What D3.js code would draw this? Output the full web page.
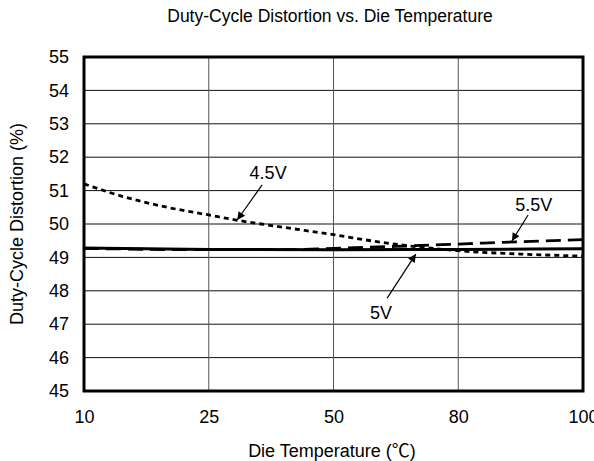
<!DOCTYPE html>
<html>
<head>
<meta charset="utf-8">
<script src="https://cdn.jsdelivr.net/npm/d3@7"></script>
<style>
body { margin: 0; background: #fff; }
text { font-family: "Liberation Sans", Arial, sans-serif; fill: #000; }
</style>
</head>
<body>
<div id="chart"></div>
<script>
// chart data
var xTicks = [10, 25, 50, 80, 100];
var yTicks = [45, 46, 47, 48, 49, 50, 51, 52, 53, 54, 55];

var temps45 = [10, 15, 20, 25, 30, 40, 50, 60, 70, 80, 90, 100];
var vals45  = [51.2, 50.8, 50.5, 50.27, 50.13, 49.9, 49.68, 49.48, 49.32, 49.2, 49.1, 49.04];

var temps50 = [10, 25, 50, 80, 100];
var vals50  = [49.28, 49.24, 49.23, 49.24, 49.26];

var temps55 = [10, 25, 40, 50, 65, 80, 90, 100];
var vals55  = [49.27, 49.23, 49.23, 49.27, 49.33, 49.4, 49.47, 49.53];

var labels = ["4.5V", "5V", "5.5V"];

var svg = d3.select("#chart").append("svg")
    .attr("width", 594).attr("height", 461);

var margin = {top: 57, left: 84},
    width = 499,
    height = 334;

var g = svg.append("g")
    .attr("transform", "translate(" + margin.left + "," + margin.top + ")");

// x axis is not linear: ticks evenly spaced
var x = d3.scaleLinear()
    .domain(xTicks)
    .range(xTicks.map(function(d, i){ return i * width / (xTicks.length - 1); }));

var y = d3.scaleLinear().domain([45, 55]).range([height, 0]);

// gridlines
g.selectAll(".hgrid").data(yTicks).enter().append("line")
    .attr("x1", 0).attr("x2", width)
    .attr("y1", function(d){ return y(d); }).attr("y2", function(d){ return y(d); })
    .attr("stroke", "#111").attr("stroke-width", 1);

g.selectAll(".vgrid").data(xTicks).enter().append("line")
    .attr("y1", 0).attr("y2", height)
    .attr("x1", function(d){ return x(d); }).attr("x2", function(d){ return x(d); })
    .attr("stroke", "#555").attr("stroke-width", 1);

// axes (labels only)
var yAxis = d3.axisLeft(y).tickValues(yTicks).tickSize(0).tickPadding(15);
var gy = g.append("g").call(yAxis);
gy.select(".domain").remove();
gy.selectAll("text").style("font-size", "18px").style("font-family", "Liberation Sans, Arial, sans-serif");

var xAxis = d3.axisBottom(x).tickValues(xTicks).tickSize(0).tickPadding(19).tickFormat(d3.format("d"));
var gx = g.append("g").attr("transform", "translate(0," + height + ")").call(xAxis);
gx.select(".domain").remove();
gx.selectAll("text").style("font-size", "18px").style("font-family", "Liberation Sans, Arial, sans-serif");

function series(t, v){ return t.map(function(d, i){ return [d, v[i]]; }); }

var line = d3.line()
    .x(function(d){ return x(d[0]); })
    .y(function(d){ return y(d[1]); })
    .curve(d3.curveMonotoneX);

g.append("path").datum(series(temps55, vals55))
    .attr("d", line).attr("fill", "none").attr("stroke", "#000")
    .attr("stroke-width", 2.8).attr("stroke-dasharray", "15,7");

g.append("path").datum(series(temps45, vals45))
    .attr("d", line).attr("fill", "none").attr("stroke", "#000")
    .attr("stroke-width", 2.8).attr("stroke-dasharray", "5,4");

g.append("path").datum(series(temps50, vals50))
    .attr("d", line).attr("fill", "none").attr("stroke", "#000")
    .attr("stroke-width", 3);

// border
g.append("rect").attr("width", width).attr("height", height)
    .attr("fill", "none").attr("stroke", "#000").attr("stroke-width", 3);

// annotations: label position (baseline), arrow start and tip, in data units
var notes = [
    {label: labels[0], lx: 36.9, ly: 51.35, fx: 35.7, fy: 51.17, tx: 30.7, ty: 50.12},
    {label: labels[1], lx: 61.4, ly: 47.16, fx: 62.9, fy: 47.78, tx: 69.8, ty: 49.1},
    {label: labels[2], lx: 92.1, ly: 50.39, fx: 91.2, fy: 50.27, tx: 88.6, ty: 49.49}
];

svg.append("defs").append("marker")
    .attr("id", "arr").attr("viewBox", "0 0 10 10")
    .attr("refX", 10).attr("refY", 5)
    .attr("markerWidth", 14).attr("markerHeight", 8)
    .attr("markerUnits", "userSpaceOnUse")
    .attr("orient", "auto")
    .append("path").attr("d", "M0,0 L10,5 L0,10 z").attr("fill", "#000");

notes.forEach(function(n){
    g.append("line")
        .attr("x1", x(n.fx)).attr("y1", y(n.fy))
        .attr("x2", x(n.tx)).attr("y2", y(n.ty))
        .attr("stroke", "#000").attr("stroke-width", 1.2)
        .attr("marker-end", "url(#arr)");
    g.append("text")
        .attr("x", x(n.lx)).attr("y", y(n.ly))
        .attr("text-anchor", "middle")
        .style("font-size", "18px")
        .text(n.label);
});

// titles
svg.append("text").attr("x", 330).attr("y", 22).attr("text-anchor", "middle")
    .style("font-size", "17.5px").text("Duty-Cycle Distortion vs. Die Temperature");

var xl = svg.append("text").attr("x", 332).attr("y", 457).attr("text-anchor", "middle")
    .style("font-size", "18px");
xl.append("tspan").text("Die Temperature (");
xl.append("tspan").style("font-family", "'Noto Sans CJK JP', sans-serif").text("\u2103");
xl.append("tspan").text(")");

svg.append("text")
    .attr("transform", "translate(23," + (margin.top + height / 2) + ") rotate(-90)")
    .attr("text-anchor", "middle")
    .style("font-size", "18px").text("Duty-Cycle Distortion (%)");
</script>
</body>
</html>
